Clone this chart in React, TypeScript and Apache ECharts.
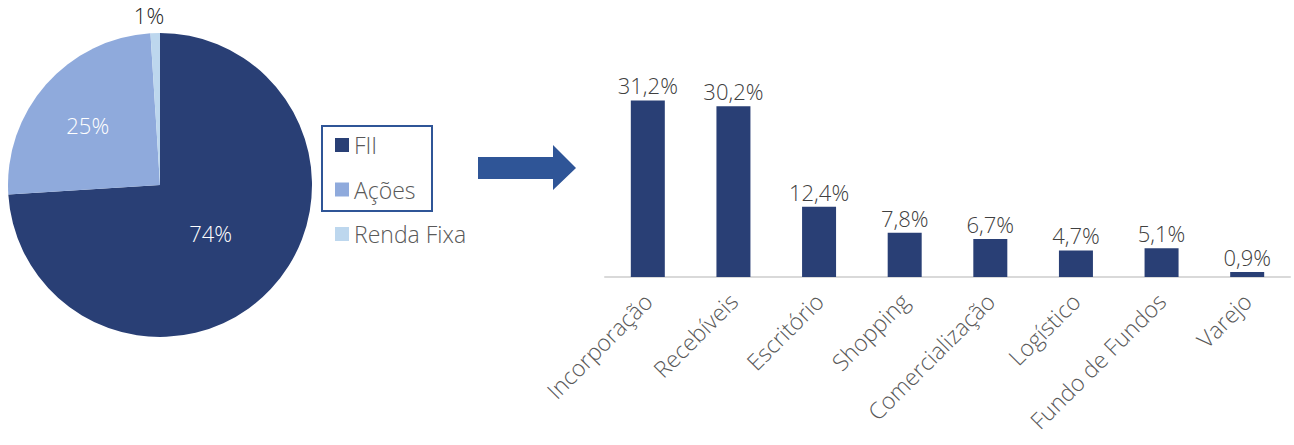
import React, { useEffect, useRef } from "react";
import * as echarts from "echarts";

const pieNames = ["FII", "Ações", "Renda Fixa"];
const pieValues = [74, 25, 1];
const pieColors = ["#293f75", "#8faadc", "#bdd7ee"];

const barCategories = [
  "Incorporação",
  "Recebíveis",
  "Escritório",
  "Shopping",
  "Comercialização",
  "Logístico",
  "Fundo de Fundos",
  "Varejo",
];
const barValues = [31.2, 30.2, 12.4, 7.8, 6.7, 4.7, 5.1, 0.9];

const FONT = "'Open Sans', Lato, sans-serif";

export default function App() {
  const ref = useRef<HTMLDivElement>(null);

  useEffect(() => {
    if (!ref.current) return;
    const chart = echarts.init(ref.current, undefined, { renderer: "svg" });
    const pieOffsets = [
      { dx: -7, dy: -6 },
      { dx: -13, dy: -8 },
      { dx: 14, dy: -16 },
    ];
    chart.setOption({
      animation: false,
      textStyle: { fontFamily: FONT },
      legend: {
        data: pieNames,
        orient: "vertical",
        left: 330,
        top: 128.5,
        icon: "rect",
        itemWidth: 14,
        itemHeight: 14,
        itemGap: 21.5,
        selectedMode: false,
        textStyle: { fontSize: 23, color: "#595959", fontFamily: FONT, fontWeight: 300, lineHeight: 23 },
      },
      grid: {
        left: 605,
        right: 4,
        top: 79,
        bottom: 168,
        containLabel: false,
      },
      xAxis: {
        type: "category",
        data: barCategories,
        axisTick: { show: false },
        axisLine: { lineStyle: { color: "#d9d9d9", width: 2 } },
        axisLabel: {
          rotate: 45,
          interval: 0,
          margin: 20,
          fontSize: 23,
          fontWeight: 300,
          color: "#595959",
          fontFamily: FONT,
        },
      },
      yAxis: {
        type: "value",
        min: 0,
        max: 35,
        show: false,
        splitLine: { show: false },
      },
      graphic: [
        {
          type: "rect",
          shape: { x: 322, y: 126, width: 110, height: 85 },
          style: { fill: "none", stroke: "#2f5597", lineWidth: 2 },
          silent: true,
        },
        {
          type: "polygon",
          shape: {
            points: [
              [478, 157],
              [553, 157],
              [553, 145],
              [576, 168],
              [553, 190],
              [553, 179],
              [478, 179],
            ],
          },
          style: { fill: "#2f5597" },
          silent: true,
        },
      ],
      series: [
        {
          type: "pie",
          center: [160, 185],
          radius: 152,
          startAngle: 90,
          clockwise: true,
          avoidLabelOverlap: false,
          data: pieNames.map((n, i) => ({
            name: n,
            value: pieValues[i],
            itemStyle: { color: pieColors[i] },
            label:
              i === 2
                ? {
                    show: true,
                    position: "outside",
                    color: "#262626",
                    fontSize: 22,
                  }
                : { show: true, position: "inside", color: "#ffffff", fontSize: 22 },
            labelLine: { show: false, length: 2, length2: 0 },
          })),
          label: {
            formatter: "{c}%",
            fontFamily: FONT,
            fontWeight: 300,
          },
          labelLine: { show: false, length: 2, length2: 0 },
          labelLayout: (p: any) => pieOffsets[p.dataIndex] || {},
          emphasis: { disabled: true },
        },
        {
          type: "bar",
          data: barValues,
          barWidth: 34,
          itemStyle: { color: "#293f75" },
          label: {
            show: true,
            position: "top",
            distance: 4,
            fontSize: 22,
            fontWeight: 300,
            color: "#404040",
            fontFamily: FONT,
            formatter: (p: any) => p.value.toFixed(1).replace(".", ",") + "%",
          },
          emphasis: { disabled: true },
        },
      ],
    });
    return () => chart.dispose();
  }, []);

  return (
    <div
      ref={ref}
      style={{ position: "fixed", left: 0, top: 0, width: 1294, height: 445, background: "#fff" }}
    />
  );
}
